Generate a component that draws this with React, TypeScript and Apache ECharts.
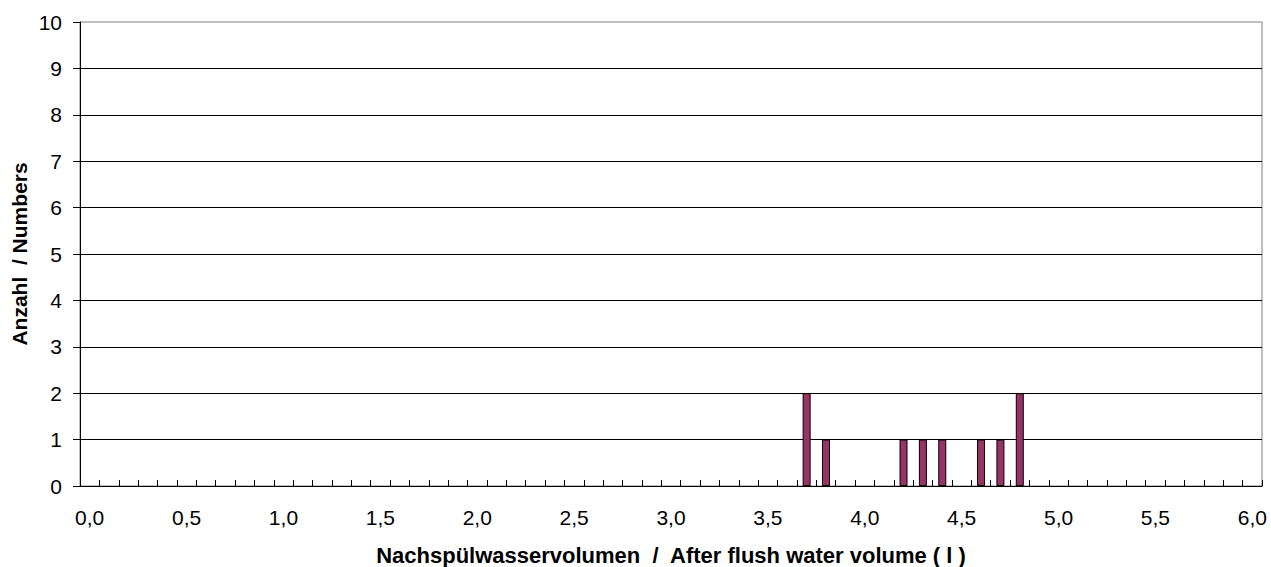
import React, { useEffect, useRef } from "react";
import * as echarts from "echarts";

const categories: string[] = [
  "0,0", "0,1", "0,2", "0,3", "0,4", "0,5", "0,6", "0,7", "0,8", "0,9",
  "1,0", "1,1", "1,2", "1,3", "1,4", "1,5", "1,6", "1,7", "1,8", "1,9",
  "2,0", "2,1", "2,2", "2,3", "2,4", "2,5", "2,6", "2,7", "2,8", "2,9",
  "3,0", "3,1", "3,2", "3,3", "3,4", "3,5", "3,6", "3,7", "3,8", "3,9",
  "4,0", "4,1", "4,2", "4,3", "4,4", "4,5", "4,6", "4,7", "4,8", "4,9",
  "5,0", "5,1", "5,2", "5,3", "5,4", "5,5", "5,6", "5,7", "5,8", "5,9",
  "6,0",
];

const counts: number[] = [
  0, 0, 0, 0, 0, 0, 0, 0, 0, 0,
  0, 0, 0, 0, 0, 0, 0, 0, 0, 0,
  0, 0, 0, 0, 0, 0, 0, 0, 0, 0,
  0, 0, 0, 0, 0, 0, 0, 2, 1, 0,
  0, 0, 1, 1, 1, 0, 1, 1, 2, 0,
  0, 0, 0, 0, 0, 0, 0, 0, 0, 0,
  0,
];

const xTitle = "Nachspülwasservolumen  /  After flush water volume ( l )";
const yTitle = "Anzahl  / Numbers";

const FONT = "'Liberation Sans', Arial, sans-serif";

export default function App() {
  const ref = useRef<HTMLDivElement>(null);
  useEffect(() => {
    if (!ref.current) return;
    const chart = echarts.init(ref.current, null, { renderer: "svg" });
    chart.setOption({
      animation: false,
      backgroundColor: "#ffffff",
      grid: {
        left: 80,
        right: 9,
        top: 22,
        bottom: 81,
        show: true,
        borderColor: "#808080",
        borderWidth: 1,
        backgroundColor: "transparent",
      },
      xAxis: {
        type: "category",
        data: categories,
        boundaryGap: true,
        axisLine: { show: true, lineStyle: { color: "#000", width: 1 } },
        axisTick: {
          show: true,
          inside: true,
          length: 6,
          interval: 0,
          alignWithLabel: false,
          lineStyle: { color: "#000" },
        },
        axisLabel: {
          interval: 4,
          margin: 21,
          color: "#000",
          fontSize: 21,
          fontFamily: FONT,
        },
        splitLine: { show: false },
      },
      yAxis: {
        type: "value",
        min: 0,
        max: 10,
        interval: 1,
        axisLine: { show: true, lineStyle: { color: "#000", width: 1 } },
        axisTick: { show: true, inside: false, length: 7, lineStyle: { color: "#000" } },
        axisLabel: {
          margin: 18,
          color: "#000",
          fontSize: 21,
          fontFamily: FONT,
        },
        splitLine: {
          show: true,
          showMaxLine: false,
          lineStyle: { color: "#000", width: 1 },
        },
      },
      series: [
        {
          type: "bar",
          data: counts.map((v) => (v === 0 ? null : v)),
          barWidth: 8,
          itemStyle: {
            color: "#993366",
            borderColor: "#000",
            borderWidth: 1,
          },
        },
      ],
      graphic: [
        {
          type: "text",
          x: 671,
          y: 555,
          style: {
            text: xTitle,
            fill: "#000",
            font: `bold 22px ${FONT}`,
            textAlign: "center",
            textVerticalAlign: "middle",
          },
        },
        {
          type: "text",
          x: 19,
          y: 254,
          rotation: Math.PI / 2,
          style: {
            text: yTitle,
            fill: "#000",
            font: `bold 21px ${FONT}`,
            textAlign: "center",
            textVerticalAlign: "middle",
          },
        },
      ],
    });
    return () => chart.dispose();
  }, []);
  return (
    <div
      ref={ref}
      style={{ position: "absolute", left: 0, top: 0, width: 1271, height: 567 }}
    />
  );
}
